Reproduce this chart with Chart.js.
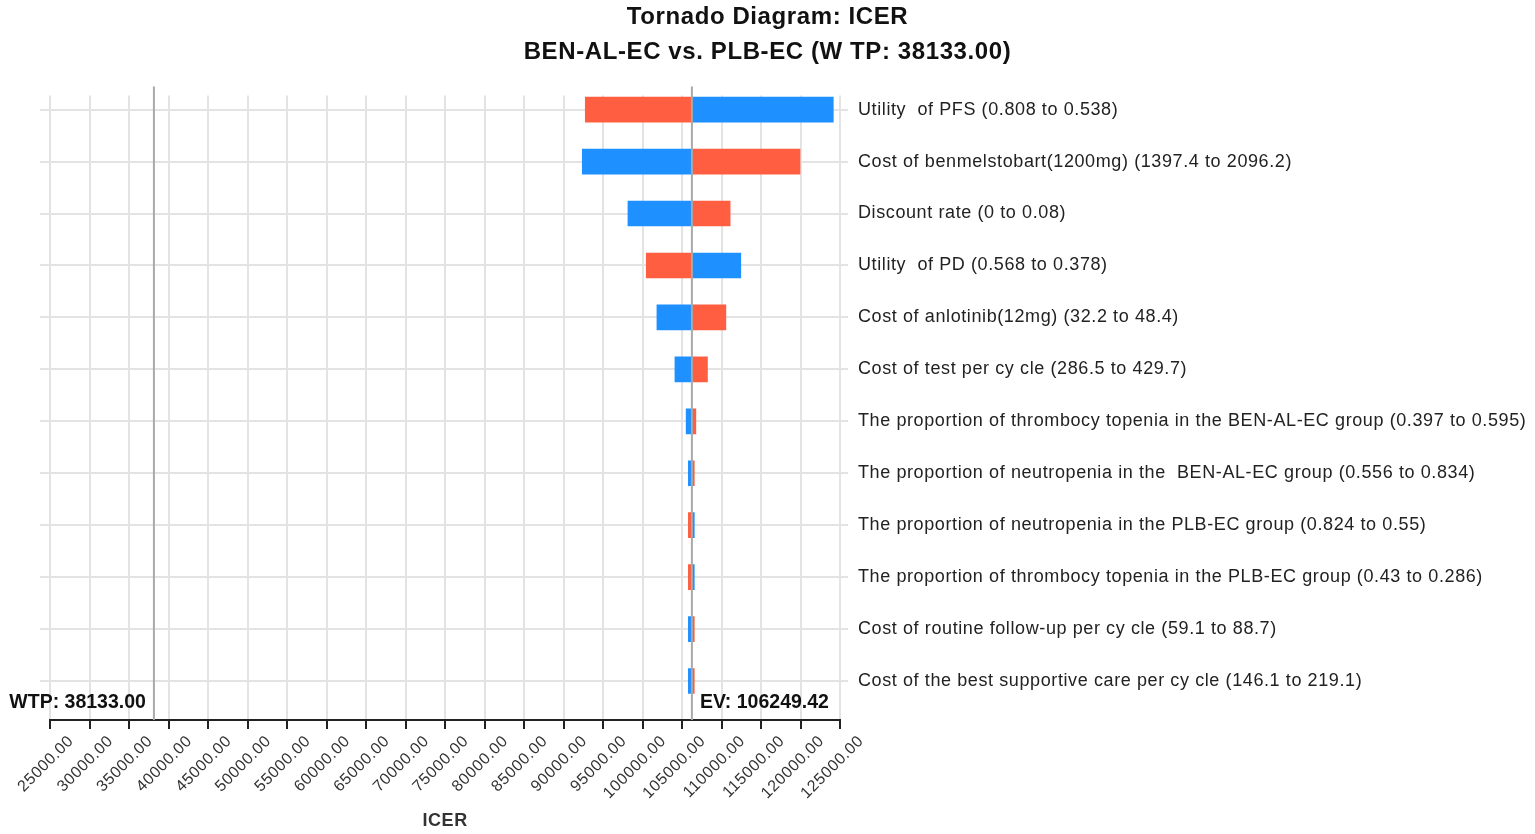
<!DOCTYPE html>
<html>
<head>
<meta charset="utf-8">
<title>Tornado Diagram: ICER</title>
<script src="https://cdn.jsdelivr.net/npm/chart.js@4.4.1/dist/chart.umd.min.js"></script>
<style>
  html, body { margin: 0; padding: 0; background: #fff; }
  #wrap { width: 1535px; height: 834px; }
</style>
</head>
<body>
<div id="wrap"><canvas id="tornado"></canvas></div>
<script>
// parameters, top to bottom
var parameters = [
    'Utility  of PFS (0.808 to 0.538)',
    'Cost of benmelstobart(1200mg) (1397.4 to 2096.2)',
    'Discount rate (0 to 0.08)',
    'Utility  of PD (0.568 to 0.378)',
    'Cost of anlotinib(12mg) (32.2 to 48.4)',
    'Cost of test per cy cle (286.5 to 429.7)',
    'The proportion of thrombocy topenia in the BEN-AL-EC group (0.397 to 0.595)',
    'The proportion of neutropenia in the  BEN-AL-EC group (0.556 to 0.834)',
    'The proportion of neutropenia in the PLB-EC group (0.824 to 0.55)',
    'The proportion of thrombocy topenia in the PLB-EC group (0.43 to 0.286)',
    'Cost of routine follow-up per cy cle (59.1 to 88.7)',
    'Cost of the best supportive care per cy cle (146.1 to 219.1)'
];

var baseICER = 106249.42;   // EV
var wtp = 38133.00;

// ICER at the end of each bar
var blueICER = [124150, 92370, 98150, 112440, 101820, 104100, 105520, 105800, 106550, 106550, 105800, 105800];
var redICER  = [92750, 119940, 111090, 100470, 110550, 108220, 106750, 106550, 105800, 105800, 106550, 106550];

var xTickValues = [25000, 30000, 35000, 40000, 45000, 50000, 55000, 60000, 65000, 70000,
    75000, 80000, 85000, 90000, 95000, 100000, 105000, 110000, 115000, 120000, 125000];

var blueColor = 'rgb(30, 144, 255)';
var redColor = 'rgb(255, 94, 64)';
var gridColor = '#e3e3e3';

function barData(ends) {
    return parameters.map(function (p, i) {
        return { y: i, x: [baseICER, ends[i]] };
    });
}

function rowTicks(scale) {
    scale.ticks = parameters.map(function (p, i) { return { value: i }; });
}

// the reference text is drawn a little spaced out
var spacing = {
    id: 'spacing',
    beforeDraw: function (chart) {
        chart.ctx.letterSpacing = '0.6px';
    }
};

// WTP and EV lines with their labels
var refLines = {
    id: 'refLines',
    afterDatasetsDraw: function (chart) {
        var ctx = chart.ctx;
        var area = chart.chartArea;
        var x = chart.scales.x;
        var xw = x.getPixelForValue(wtp);
        var xe = x.getPixelForValue(baseICER);
        ctx.save();
        ctx.strokeStyle = '#a9a9a9';
        ctx.lineWidth = 2;
        [xw, xe].forEach(function (px) {
            ctx.beginPath();
            ctx.moveTo(px, area.top - 9);
            ctx.lineTo(px, area.bottom);
            ctx.stroke();
        });
        ctx.letterSpacing = '0px';
        ctx.font = 'bold 19.5px "Liberation Sans", Arial, sans-serif';
        ctx.fillStyle = '#111';
        ctx.textBaseline = 'middle';
        ctx.textAlign = 'right';
        ctx.fillText('WTP: ' + wtp.toFixed(2), xw - 8, area.bottom - 17);
        ctx.textAlign = 'left';
        ctx.fillText('EV: ' + baseICER.toFixed(2), xe + 8, area.bottom - 17);
        ctx.restore();
    }
};

Chart.defaults.font.family = '"Liberation Sans", Arial, sans-serif';

var ctx = document.getElementById('tornado').getContext('2d');
var tornado = new Chart(ctx, {
    type: 'bar',
    data: {
        datasets: [{
            label: 'blue',
            data: barData(blueICER),
            backgroundColor: blueColor,
            barThickness: 25,
            grouped: false
        }, {
            label: 'red',
            data: barData(redICER),
            backgroundColor: redColor,
            barThickness: 25,
            grouped: false
        }]
    },
    options: {
        indexAxis: 'y',
        responsive: true,
        maintainAspectRatio: false,
        animation: false,
        layout: {
            padding: 0
        },
        plugins: {
            legend: { display: false },
            title: {
                display: true,
                text: ['Tornado Diagram: ICER', 'BEN-AL-EC vs. PLB-EC (W TP: 38133.00)'],
                color: '#111',
                font: { size: 24, weight: 'bold', lineHeight: 1.45 },
                padding: { top: 0, bottom: 26 }
            }
        },
        scales: {
            x: {
                type: 'linear',
                min: 25000,
                max: 125000,
                afterBuildTicks: function (scale) {
                    scale.ticks = xTickValues.map(function (v) { return { value: v }; });
                },
                afterFit: function (scale) { scale.height = 114; },
                ticks: {
                    minRotation: 45,
                    maxRotation: 45,
                    labelOffset: 21,
                    color: '#333',
                    font: { size: 16 },
                    callback: function (v) { return Number(v).toFixed(2); }
                },
                grid: {
                    color: gridColor,
                    lineWidth: 2,
                    tickColor: '#222',
                    tickLength: 9
                },
                border: { display: true, color: '#222', width: 2 },
                title: {
                    display: true,
                    text: 'ICER',
                    color: '#333',
                    font: { size: 18, weight: 'bold' },
                    padding: { top: 0, bottom: 2 }
                }
            },
            y: {
                type: 'linear',
                position: 'left',
                reverse: true,
                offset: false,
                min: -0.27,
                max: 11.75,
                afterBuildTicks: rowTicks,
                afterFit: function (scale) { scale.width = 48; },
                ticks: { display: false },
                grid: { color: gridColor, lineWidth: 2, tickLength: 10, offset: false },
                border: { display: false }
            },
            y2: {
                type: 'linear',
                position: 'right',
                reverse: true,
                offset: false,
                min: -0.27,
                max: 11.75,
                afterBuildTicks: rowTicks,
                afterFit: function (scale) { scale.width = 695; },
                ticks: {
                    color: '#222',
                    font: { size: 18 },
                    padding: 10,
                    callback: function (v) { return parameters[v]; }
                },
                grid: { drawOnChartArea: false, color: gridColor, lineWidth: 2, tickLength: 8, offset: false },
                border: { display: false }
            }
        }
    },
    plugins: [spacing, refLines]
});
</script>
</body>
</html>
